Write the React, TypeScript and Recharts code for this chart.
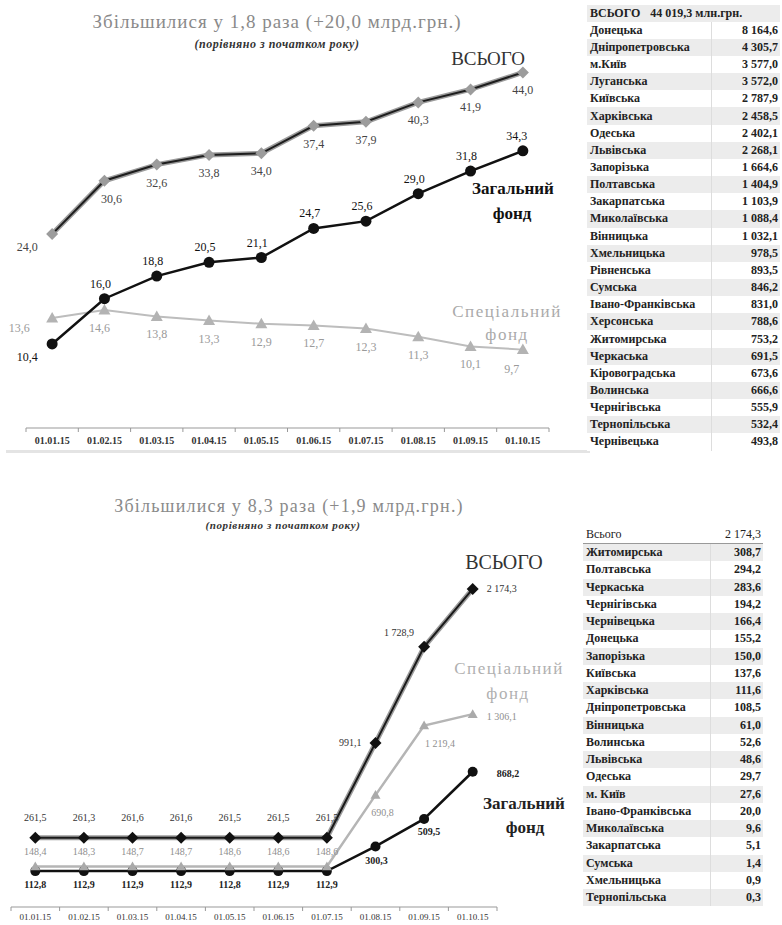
import React from 'react';
import { LineChart, Line, XAxis, YAxis, LabelList } from 'recharts';

const dates = ['01.01.15', '01.02.15', '01.03.15', '01.04.15', '01.05.15', '01.06.15', '01.07.15', '01.08.15', '01.09.15', '01.10.15'];

// revenues, bn UAH
const revTotal = [24.0, 30.6, 32.6, 33.8, 34.0, 37.4, 37.9, 40.3, 41.9, 44.0];
const revGeneral = [10.4, 16.0, 18.8, 20.5, 21.1, 24.7, 25.6, 29.0, 31.8, 34.3];
const revSpecial = [13.6, 14.6, 13.8, 13.3, 12.9, 12.7, 12.3, 11.3, 10.1, 9.7];

// deposits, mln UAH
const depTotal = [261.5, 261.3, 261.6, 261.6, 261.5, 261.5, 261.5, 991.1, 1728.9, 2174.3];
const depGeneral = [112.8, 112.9, 112.9, 112.9, 112.8, 112.9, 112.9, 300.3, 509.5, 868.2];
const depSpecial = [148.4, 148.3, 148.7, 148.7, 148.6, 148.6, 148.6, 690.8, 1219.4, 1306.1];

const revRegions = ['Донецька', 'Дніпропетровська', 'м.Київ', 'Луганська', 'Київська', 'Харківська', 'Одеська', 'Львівська', 'Запорізька', 'Полтавська', 'Закарпатська', 'Миколаївська', 'Вінницька', 'Хмельницька', 'Рівненська', 'Сумська', 'Івано-Франківська', 'Херсонська', 'Житомирська', 'Черкаська', 'Кіровоградська', 'Волинська', 'Чернігівська', 'Тернопільська', 'Чернівецька'];
const revRegionValues = [8164.6, 4305.7, 3577.0, 3572.0, 2787.9, 2458.5, 2402.1, 2268.1, 1664.6, 1404.9, 1103.9, 1088.4, 1032.1, 978.5, 893.5, 846.2, 831.0, 788.6, 753.2, 691.5, 673.6, 666.6, 555.9, 532.4, 493.8];
const revRegionTotal = 44019.3;

const depRegions = ['Житомирська', 'Полтавська', 'Черкаська', 'Чернігівська', 'Чернівецька', 'Донецька', 'Запорізька', 'Київська', 'Харківська', 'Дніпропетровська', 'Вінницька', 'Волинська', 'Львівська', 'Одеська', 'м. Київ', 'Івано-Франківська', 'Миколаївська', 'Закарпатська', 'Сумська', 'Хмельницька', 'Тернопільська'];
const depRegionValues = [308.7, 294.2, 283.6, 194.2, 166.4, 155.2, 150.0, 137.6, 111.6, 108.5, 61.0, 52.6, 48.6, 29.7, 27.6, 20.0, 9.6, 5.1, 1.4, 0.9, 0.3];
const depRegionTotal = 2174.3;

const FONT = '"Liberation Serif", Tinos, "Times New Roman", serif';

const fmt = (v: number) => {
  const [i, d] = v.toFixed(1).split('.');
  return `${i.replace(/\B(?=(\d{3})+(?!\d))/g, ' ')},${d}`;
};

const revData = dates.map((date, i) => ({ date, total: revTotal[i], general: revGeneral[i], special: revSpecial[i] }));
const depData = dates.map((date, i) => ({ date, total: depTotal[i], general: depGeneral[i], special: depSpecial[i] }));

type Place = (i: number) => [number, number, string?];

const valueLabel = (color: string, size: number, weight: number | string, place: Place) => (p: any) => {
  const x = p.x ?? p.viewBox?.x;
  const y = p.y ?? p.viewBox?.y;
  const [dx, dy, anchor = 'middle'] = place(p.index);
  return (
    <text x={x + dx} y={y + dy} textAnchor={anchor} dominantBaseline="central"
      fontSize={size} fontWeight={weight} fill={color} style={{ fontFamily: FONT }}>
      {fmt(Number(p.value))}
    </text>
  );
};

const diamond = (fill: string, s: number) => (p: any) => (
  <path key={`d-${p.index}`} d={`M${p.cx},${p.cy - s}L${p.cx + s},${p.cy}L${p.cx},${p.cy + s}L${p.cx - s},${p.cy}Z`} fill={fill} />
);
const circle = (fill: string, r: number) => (p: any) => (
  <circle key={`c-${p.index}`} cx={p.cx} cy={p.cy} r={r} fill={fill} />
);
const triangle = (fill: string, s: number) => (p: any) => (
  <path key={`t-${p.index}`} d={`M${p.cx},${p.cy - s}L${p.cx + s},${p.cy + s * 0.75}L${p.cx - s},${p.cy + s * 0.75}Z`} fill={fill} />
);

const AxisTick = (props: any) => {
  const { x, y, payload, index, step, count, gap, size, weight } = props;
  return (
    <g>
      <line x1={x - step / 2} y1={y} x2={x - step / 2} y2={y + 4} stroke="#999" />
      {index === count - 1 && <line x1={x + step / 2} y1={y} x2={x + step / 2} y2={y + 4} stroke="#999" />}
      <text x={x} y={y + gap} textAnchor="middle" dominantBaseline="central" fontSize={size}
        fontWeight={weight} fill="#333" style={{ fontFamily: FONT }}>{payload.value}</text>
    </g>
  );
};

const Caption = ({ x, y, size, color, weight = 'normal', italic = false, spacing = 0, children }: any) => (
  <div style={{
    position: 'absolute', left: x, top: y, transform: 'translate(-50%, -50%)', whiteSpace: 'nowrap',
    fontSize: size, color, fontWeight: weight, fontStyle: italic ? 'italic' : 'normal', lineHeight: 1,
    letterSpacing: spacing, fontFamily: FONT,
  }}>{children}</div>
);

// first chart geometry
const W1 = 570, H1 = 460, L1 = 26, R1 = 21;
const STEP1 = (W1 - L1 - R1) / dates.length;
// second chart geometry
const W2 = 570, H2 = 435, L2 = 11, R2 = 73;
const STEP2 = (W2 - L2 - R2) / dates.length;

function RevenueChart() {
  return (
    <LineChart width={W1} height={H1} data={revData} margin={{ top: 24, right: R1, left: L1, bottom: 2 }}>
      <XAxis dataKey="date" interval={0} height={30} tickSize={0} tickMargin={0} tickLine={false}
        padding={{ left: STEP1 / 2, right: STEP1 / 2 }} axisLine={{ stroke: '#999' }}
        tick={<AxisTick step={STEP1} count={dates.length} gap={12} size={10} weight="bold" />} />
      <YAxis hide domain={[0, 50]} />
      <Line dataKey="special" stroke="#bdbdbd" strokeWidth={2} isAnimationActive={false}
        dot={triangle('#b3b3b3', 6)} activeDot={false}>
        <LabelList dataKey="special" content={valueLabel('#9a9a9a', 12, 'normal',
          (i) => (i === 0 ? [-33, 10] : i === 9 ? [-11, 19] : [i === 1 ? -5 : 0, 18]))} />
      </Line>
      <Line dataKey="total" stroke="#9c9c9c" strokeWidth={5} isAnimationActive={false} dot={false} activeDot={false} />
      <Line dataKey="total" stroke="#1e1e1e" strokeWidth={2} isAnimationActive={false}
        dot={diamond('#9c9c9c', 6)} activeDot={false}>
        <LabelList dataKey="total" content={valueLabel('#444', 12, 'normal',
          (i) => (i === 0 ? [-25, 13] : [i === 1 ? 7 : 0, 18]))} />
      </Line>
      <Line dataKey="general" stroke="#111" strokeWidth={2.5} isAnimationActive={false}
        dot={circle('#111', 5.5)} activeDot={false}>
        <LabelList dataKey="general" content={valueLabel('#111', 12, 'normal',
          (i) => (i === 0 ? [-25, 13] : [i === 9 ? -6 : -4, -15]))} />
      </Line>
    </LineChart>
  );
}

function DepositChart() {
  return (
    <LineChart width={W2} height={H2} data={depData} margin={{ top: 50, right: R2, left: L2, bottom: 0 }}>
      <XAxis dataKey="date" interval={0} height={18} tickSize={0} tickMargin={0} tickLine={false}
        padding={{ left: STEP2 / 2, right: STEP2 / 2 }} axisLine={{ stroke: '#999' }}
        tick={<AxisTick step={STEP2} count={dates.length} gap={10} size={9} weight="normal" />} />
      <YAxis yAxisId="total" hide domain={[-270, 2550]} />
      <YAxis yAxisId="funds" hide domain={[-160, 2630]} />
      <Line yAxisId="funds" dataKey="general" stroke="#111" strokeWidth={2.5} isAnimationActive={false}
        dot={circle('#111', 5)} activeDot={false}>
        <LabelList dataKey="general" content={valueLabel('#222', 10, 'bold',
          (i) => (i < 7 ? [0, 13] : i === 7 ? [1, 14] : i === 8 ? [5, 13] : [24, 2, 'start']))} />
      </Line>
      <Line yAxisId="funds" dataKey="special" stroke="#b5b5b5" strokeWidth={2.5} isAnimationActive={false}
        dot={triangle('#aaa', 5)} activeDot={false}>
        <LabelList dataKey="special" content={valueLabel('#8f8f8f', 10, 'normal',
          (i) => (i < 7 ? [0, -15] : i === 7 ? [7, 17] : i === 8 ? [16, 18] : [14, 2, 'start']))} />
      </Line>
      <Line yAxisId="total" dataKey="total" stroke="#9c9c9c" strokeWidth={5} isAnimationActive={false} dot={false} activeDot={false} />
      <Line yAxisId="total" dataKey="total" stroke="#1a1a1a" strokeWidth={2} isAnimationActive={false}
        dot={diamond('#111', 6)} activeDot={false}>
        <LabelList dataKey="total" content={valueLabel('#333', 10, 'normal',
          (i) => (i < 7 ? [0, -20] : i === 7 ? [-14, 0, 'end'] : i === 8 ? [-25, -14] : [14, 0, 'start']))} />
      </Line>
    </LineChart>
  );
}

function RegionTable({ left, top, width, rowH, valueW, names, values, shade, header }: any) {
  return (
    <div style={{ position: 'absolute', left, top, width, fontSize: 12, fontWeight: 'bold', color: '#222', fontFamily: FONT }}>
      {header}
      {names.map((n: string, i: number) => (
        <div key={n + i} style={{ height: rowH, display: 'flex', alignItems: 'center', background: shade(i) }}>
          <div style={{ flex: 1, paddingLeft: 3, whiteSpace: 'nowrap', overflow: 'hidden' }}>{n}</div>
          <div style={{ width: valueW, height: '100%', borderLeft: '1px solid #ddd', display: 'flex', alignItems: 'center', justifyContent: 'flex-end', paddingRight: 2, boxSizing: 'border-box' }}>
            {fmt(values[i])}
          </div>
        </div>
      ))}
    </div>
  );
}

export default function App() {
  return (
    <div style={{ position: 'absolute', left: 0, top: 0, width: 782, height: 925, background: '#fff', fontFamily: FONT, overflow: 'hidden' }}>
      <Caption x={277} y={21} size={19} spacing={1} color="#8a8a8a">Збільшилися у 1,8 раза (+20,0 млрд.грн.)</Caption>
      <Caption x={277} y={44} size={12} spacing={0.5} color="#333" weight="bold" italic>(порівняно з початком року)</Caption>

      <div style={{ position: 'absolute', left: 0, top: 0 }}><RevenueChart /></div>
      <Caption x={488} y={58} size={19} color="#333">ВСЬОГО</Caption>
      <Caption x={513} y={188} size={17} color="#111" weight="bold">Загальний</Caption>
      <Caption x={512} y={213} size={17} color="#111" weight="bold">фонд</Caption>
      <Caption x={507} y={311} size={17} spacing={1.5} color="#aaa">Спеціальний</Caption>
      <Caption x={507} y={334} size={17} spacing={1.5} color="#aaa">фонд</Caption>

      <div style={{ position: 'absolute', left: 6, top: 450, width: 584, height: 3, background: '#e4e4e4' }} />

      <RegionTable left={587} top={4.5} width={193} rowH={17.16} valueW={69} names={revRegions} values={revRegionValues}
        shade={(i: number) => (i % 2 === 1 ? '#ececec' : '#fff')}
        header={
          <div style={{ height: 17.16, background: '#ececec', paddingLeft: 3, display: 'flex', alignItems: 'center', gap: 10 }}>
            <span>ВСЬОГО</span><span>{fmt(revRegionTotal)} млн.грн.</span>
          </div>
        } />

      <Caption x={289} y={506} size={18} spacing={1.2} color="#8a8a8a">Збільшилися у 8,3 раза (+1,9 млрд.грн.)</Caption>
      <Caption x={283} y={525} size={11} spacing={0.6} color="#333" weight="bold" italic>(порівняно з початком року)</Caption>

      <div style={{ position: 'absolute', left: 0, top: 490 }}><DepositChart /></div>
      <Caption x={504} y={562} size={20} color="#333">ВСЬОГО</Caption>
      <Caption x={509} y={668} size={17} spacing={1.5} color="#b0b0b0">Спеціальний</Caption>
      <Caption x={508} y={693} size={17} spacing={1.5} color="#b0b0b0">фонд</Caption>
      <Caption x={524} y={803} size={17} color="#222" weight="bold">Загальний</Caption>
      <Caption x={525} y={827} size={17} color="#222" weight="bold">фонд</Caption>

      <RegionTable left={583} top={526} width={180} rowH={17.25} valueW={53} names={depRegions} values={depRegionValues}
        shade={(i: number) => (i % 2 === 0 ? '#ececec' : '#fff')}
        header={
          <div style={{ height: 18, borderBottom: '1px solid #999', boxSizing: 'border-box', display: 'flex', alignItems: 'center', justifyContent: 'space-between', padding: '0 2px 0 3px', fontWeight: 'normal' }}>
            <span>Всього</span><span>{fmt(depRegionTotal)}</span>
          </div>
        } />
    </div>
  );
}
